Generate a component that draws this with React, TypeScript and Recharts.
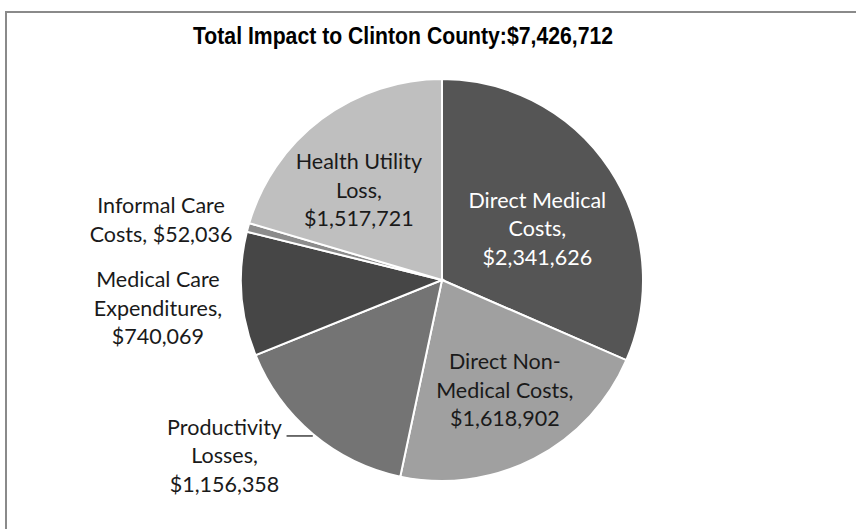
import { PieChart, Pie, Cell } from "recharts";

const title = "Total Impact to Clinton County:$7,426,712";

const categories = [
  "Direct Medical Costs",
  "Direct Non-Medical Costs",
  "Productivity Losses",
  "Medical Care Expenditures",
  "Informal Care Costs",
  "Health Utility Loss",
];

const values = [2341626, 1618902, 1156358, 740069, 52036, 1517721];

// how each label wraps, {v} is the value
const labelTemplates = [
  "Direct Medical|Costs,|{v}",
  "Direct Non-|Medical Costs,|{v}",
  "Productivity|Losses,|{v}",
  "Medical Care|Expenditures,|{v}",
  "Informal Care|Costs, {v}",
  "Health Utility|Loss,|{v}",
];

const colors = ["#555555", "#a0a0a0", "#747474", "#464646", "#8c8c8c", "#bfbfbf"];
const textColors = ["#ffffff", "#1a1a1a", "#1a1a1a", "#1a1a1a", "#1a1a1a", "#1a1a1a"];

// label placement: radius as share of outer radius, nudge in degrees (clockwise)
const labelRadius = [0.54, 0.63, 1.39, 1.42, 1.43, 0.61];
const labelNudge = [4.7, -2.5, 11.1, -1.6, -3.0, -5.9];
const hasLeader = [false, false, true, false, false, false];

const data = categories.map((name, i) => ({ name, value: values[i] }));

const RADIAN = Math.PI / 180;
const LINE_H = 28.5;

const fmt = (v: number) => "$" + v.toLocaleString("en-US");

function renderLabel(props: any) {
  const { cx, cy, midAngle, outerRadius, index, value } = props;
  const ang = midAngle - labelNudge[index];
  const r = outerRadius * labelRadius[index];
  const x = cx + r * Math.cos(-ang * RADIAN);
  const y = cy + r * Math.sin(-ang * RADIAN);
  const lines = labelTemplates[index].replace("{v}", fmt(value)).split("|");
  const y0 = y - ((lines.length - 1) / 2) * LINE_H;

  let leader = null;
  if (hasLeader[index]) {
    const ex = cx + outerRadius * Math.cos(-midAngle * RADIAN);
    const ey = cy + outerRadius * Math.sin(-midAngle * RADIAN);
    leader = (
      <line x1={ex} y1={ey + 2} x2={x + 62} y2={ey + 2} stroke="#222" strokeWidth={1.3} />
    );
  }

  return (
    <g>
      {leader}
      <text
        x={x}
        y={y0}
        textAnchor="middle"
        dominantBaseline="central"
        fill={textColors[index]}
        fontFamily="Lato, 'Open Sans', sans-serif"
        fontSize={21.5}
      >
        {lines.map((l, i) => (
          <tspan key={i} x={x} y={y0 + i * LINE_H}>
            {l}
          </tspan>
        ))}
      </text>
    </g>
  );
}

export default function App() {
  return (
    <div
      style={{
        position: "absolute",
        left: 0,
        top: 0,
        width: 856,
        height: 529,
        overflow: "hidden",
        background: "#fff",
      }}
    >
      <div
        style={{
          position: "absolute",
          left: 5,
          top: 11,
          width: 900,
          height: 600,
          borderLeft: "2px solid #8a8a8a",
          borderTop: "2px solid #8a8a8a",
        }}
      />
      <svg
        width={856}
        height={60}
        style={{ position: "absolute", left: 0, top: 0 }}
      >
        <text
          x={193}
          y={44}
          textLength={420}
          lengthAdjust="spacingAndGlyphs"
          fontFamily="'Liberation Sans', Arial, sans-serif"
          fontWeight="bold"
          fontSize={24}
          fill="#000"
        >
          {title}
        </text>
      </svg>
      <div style={{ position: "absolute", left: 0, top: 0 }}>
        <PieChart width={856} height={529}>
          <Pie
            data={data}
            dataKey="value"
            nameKey="name"
            cx={437}
            cy={275}
            outerRadius={201}
            startAngle={90}
            endAngle={-270}
            stroke="#ffffff"
            strokeWidth={2}
            labelLine={false}
            label={renderLabel}
            isAnimationActive={false}
          >
            {data.map((d, i) => (
              <Cell key={d.name} fill={colors[i]} />
            ))}
          </Pie>
        </PieChart>
      </div>
    </div>
  );
}
